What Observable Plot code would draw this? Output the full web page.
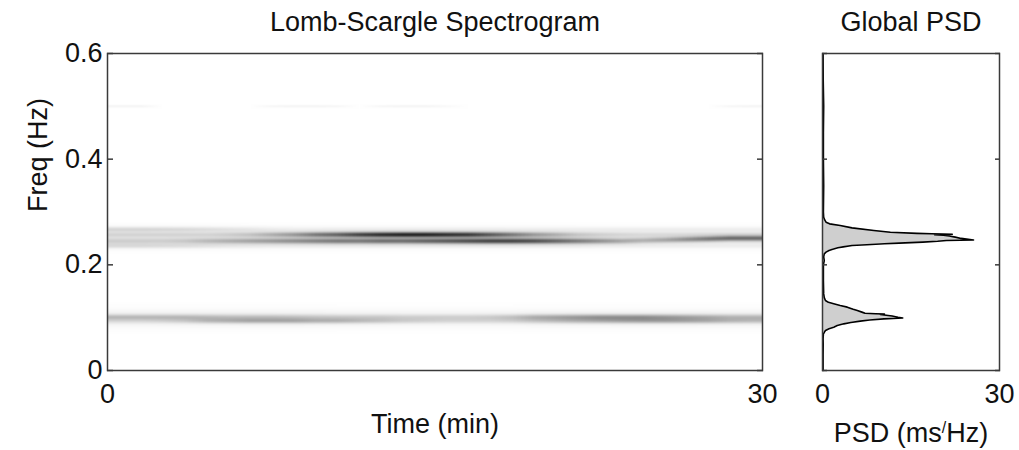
<!DOCTYPE html>
<html>
<head>
<meta charset="utf-8">
<script src="https://cdn.jsdelivr.net/npm/d3@7"></script>
<script src="https://cdn.jsdelivr.net/npm/@observablehq/plot@0.6"></script>
<style>
  body { margin: 0; background: #fff; }
  #fig { position: relative; width: 1019px; height: 450px; font-family: "Liberation Sans", Arial, sans-serif; }
  #fig svg { position: absolute; top: 0; overflow: visible; }
</style>
</head>
<body>
<div id="fig"></div>
<script>
// ---- Axis ticks ----
const freqTicks = [0, 0.2, 0.4, 0.6];
const timeTicks = [0, 30];
const psdTicks = [0, 30];

// ---- Spectrogram: one-minute time bins (0..30 min) ----
const timeBins = [0.5, 1.5, 2.5, 3.5, 4.5, 5.5, 6.5, 7.5, 8.5, 9.5, 10.5, 11.5, 12.5, 13.5, 14.5,
  15.5, 16.5, 17.5, 18.5, 19.5, 20.5, 21.5, 22.5, 23.5, 24.5, 25.5, 26.5, 27.5, 28.5, 29.5];

// Respiratory band, upper ridge (~0.257 Hz)
const upperHiFreq = 0.257;
const upperHiPower = [0.12, 0.12, 0.12, 0.12, 0.12, 0.15, 0.2, 0.3, 0.4, 0.55, 0.65, 0.8, 0.9, 0.95, 0.95,
  0.9, 0.85, 0.7, 0.55, 0.4, 0.3, 0.2, 0.15, 0.12, 0.1, 0.1, 0.1, 0.1, 0.1, 0.1];
// Respiratory band, lower ridge (~0.245 Hz, drifting up at the end)
const upperLoFreq = [0.245, 0.245, 0.245, 0.245, 0.245, 0.245, 0.245, 0.245, 0.245, 0.245, 0.245, 0.245, 0.245, 0.245, 0.245,
  0.245, 0.245, 0.245, 0.245, 0.245, 0.245, 0.245, 0.245, 0.245, 0.246, 0.247, 0.248, 0.249, 0.25, 0.25];
const upperLoPower = [0.15, 0.15, 0.15, 0.18, 0.25, 0.3, 0.35, 0.4, 0.45, 0.5, 0.55, 0.55, 0.6, 0.6, 0.65,
  0.7, 0.75, 0.8, 0.8, 0.75, 0.65, 0.55, 0.45, 0.35, 0.3, 0.35, 0.45, 0.55, 0.6, 0.6];
// Faint side ridges of the respiratory band
const upperOuterFreq = 0.267;
const upperOuterPower = [0.16, 0.16, 0.15, 0.14, 0.12, 0.1, 0.08, 0.06, 0.05, 0.05, 0.05, 0.05, 0.05, 0.05, 0.05,
  0.05, 0.05, 0.05, 0.05, 0.05, 0.05, 0.05, 0.05, 0.05, 0.05, 0.05, 0.05, 0.05, 0.05, 0.05];
const upperInnerFreq = 0.236;
const upperInnerPower = [0.14, 0.14, 0.13, 0.12, 0.1, 0.08, 0.07, 0.06, 0.06, 0.06, 0.06, 0.06, 0.06, 0.06, 0.06,
  0.06, 0.06, 0.06, 0.06, 0.06, 0.06, 0.06, 0.05, 0.05, 0.05, 0.05, 0.05, 0.05, 0.05, 0.05];
const upperHaloFreq = 0.251;
const upperHaloPower = [0.09, 0.09, 0.09, 0.09, 0.09, 0.09, 0.09, 0.09, 0.09, 0.09, 0.09, 0.09, 0.09, 0.09, 0.09,
  0.09, 0.09, 0.09, 0.09, 0.09, 0.09, 0.08, 0.08, 0.08, 0.08, 0.08, 0.08, 0.08, 0.08, 0.08];

// Low-frequency band, two ridges near 0.1 Hz
const lowerHiFreq = 0.101;
const lowerHiPower = [0.24, 0.24, 0.24, 0.24, 0.22, 0.2, 0.2, 0.2, 0.18, 0.16, 0.16, 0.16, 0.16, 0.14, 0.14,
  0.14, 0.14, 0.16, 0.2, 0.28, 0.32, 0.36, 0.4, 0.4, 0.4, 0.36, 0.32, 0.28, 0.24, 0.24];
const lowerLoFreq = 0.094;
const lowerLoPower = [0.1, 0.1, 0.12, 0.16, 0.24, 0.28, 0.32, 0.32, 0.32, 0.28, 0.28, 0.24, 0.2, 0.16, 0.14,
  0.12, 0.12, 0.12, 0.14, 0.18, 0.22, 0.26, 0.29, 0.32, 0.34, 0.34, 0.32, 0.29, 0.24, 0.22];
const lowerHaloFreq = 0.099;
const lowerHaloPower = [0.08, 0.08, 0.08, 0.08, 0.08, 0.08, 0.08, 0.08, 0.08, 0.08, 0.07, 0.07, 0.07, 0.07, 0.07,
  0.07, 0.07, 0.07, 0.07, 0.08, 0.08, 0.08, 0.08, 0.08, 0.08, 0.08, 0.08, 0.08, 0.08, 0.08];

// Very faint line at 0.5 Hz
const halfHzFreq = 0.5;
const halfHzPower = [0.05, 0.05, 0, 0, 0, 0, 0, 0.04, 0.05, 0.05, 0.04, 0, 0.04, 0.05, 0.05,
  0.03, 0, 0, 0, 0, 0, 0, 0, 0, 0, 0, 0, 0, 0.04, 0.05];

// ---- Global PSD (frequency in Hz, power in ms²/Hz) ----
const psdFreq = [0, 0.03, 0.05, 0.060, 0.0694, 0.0720, 0.0757, 0.0790, 0.0820, 0.0850,
  0.0883, 0.0910, 0.0934, 0.0955, 0.0978, 0.0985, 0.0995, 0.1009, 0.1030, 0.1045,
  0.1060, 0.1068, 0.1075, 0.1085, 0.1100, 0.1136, 0.1160, 0.1199, 0.1230, 0.1262,
  0.1290, 0.1325, 0.1380, 0.1450, 0.170, 0.200, 0.2080, 0.2150, 0.2208, 0.2240,
  0.2271, 0.2290, 0.2322, 0.2340, 0.2366, 0.2380, 0.2398, 0.2410, 0.2429, 0.2445,
  0.2460, 0.2470, 0.2480, 0.2500, 0.2524, 0.2545, 0.2560, 0.2570, 0.2578, 0.2587,
  0.2595, 0.2618, 0.2650, 0.2700, 0.2745, 0.2776, 0.2807, 0.2845, 0.2900, 0.3000,
  0.35, 0.4, 0.45, 0.5, 0.55, 0.6];
const psdPower = [0.1, 0.1, 0.12, 0.1, 0.15, 0.3, 0.5, 1.1, 1.9, 2.5,
  3.6, 4.8, 6.4, 8.0, 10.4, 12.0, 13.6, 12.8, 11.8, 10.8,
  9.8, 10.5, 9.0, 7.2, 6.8, 5.9, 5.2, 4.2, 3.0, 1.9,
  1.0, 0.5, 0.3, 0.2, 0.15, 0.15, 0.3, 0.2, 0.3, 0.6,
  1.1, 1.6, 2.6, 3.5, 5.0, 7.5, 10.5, 13.0, 17.0, 19.5,
  21.0, 25.6, 25.0, 23.5, 22.5, 21.5, 20.5, 19.0, 22.0, 18.5,
  16.0, 11.5, 8.7, 5.0, 3.0, 1.2, 0.6, 0.4, 0.2, 0.15,
  0.2, 0.15, 0.15, 0.2, 0.12, 0.1];

// ---- Build tables from the arrays ----
const ridges = [
  {freq: upperHiFreq, power: upperHiPower, width: 0.0036},
  {freq: upperLoFreq, power: upperLoPower, width: 0.0036},
  {freq: upperOuterFreq, power: upperOuterPower, width: 0.0035},
  {freq: upperInnerFreq, power: upperInnerPower, width: 0.0035},
  {freq: upperHaloFreq, power: upperHaloPower, width: 0.011},
  {freq: lowerHiFreq, power: lowerHiPower, width: 0.0036},
  {freq: lowerLoFreq, power: lowerLoPower, width: 0.0036},
  {freq: lowerHaloFreq, power: lowerHaloPower, width: 0.011},
  {freq: halfHzFreq, power: halfHzPower, width: 0.0016}
];
const psdTable = psdFreq.map((f, i) => ({freq: f, psd: psdPower[i]}));

// Spectral intensity at time t (min) and frequency f (Hz)
function spectrum(t, f) {
  const col = Math.max(0, Math.min(timeBins.length - 1, Math.floor(t)));
  let s = 0;
  for (const r of ridges) {
    const f0 = Array.isArray(r.freq) ? r.freq[col] : r.freq;
    const z = (f - f0) / r.width;
    s += r.power[col] * Math.exp(-0.5 * z * z);
  }
  return s;
}

const font = `"Liberation Sans", Arial, sans-serif`;
const ink = "#111";
const frameColor = "#3a3a3a";
const fs = 27;
const tickFmt = d => String(d);

const left = Plot.plot({
  width: 790,
  height: 450,
  marginLeft: 107,
  marginRight: 28,
  marginTop: 53,
  marginBottom: 80,
  x: {domain: [0, 30]},
  y: {domain: [0, 0.6]},
  color: {type: "linear", domain: [0, 1.2], range: ["#ffffff", "#000000"], interpolate: "rgb", clamp: true},
  style: {fontFamily: font, fontSize: fs + "px", color: ink, background: "transparent", overflow: "visible"},
  marks: [
    Plot.raster({
      x1: 0, x2: 30, y1: 0, y2: 0.6,
      width: timeBins.length, height: 300,
      fill: (x, y) => spectrum(x, y),
      imageRendering: "auto"
    }),
    Plot.frame({stroke: frameColor, strokeWidth: 1.5}),
    Plot.axisY(freqTicks, {anchor: "left", tickSize: 0, tickPadding: 5, tickFormat: tickFmt, label: null, fontSize: fs, fill: ink}),
    Plot.axisY(freqTicks, {anchor: "left", tickSize: -6, tickFormat: () => "", label: null, stroke: frameColor, strokeWidth: 1.5}),
    Plot.axisY(freqTicks, {anchor: "right", tickSize: -6, tickFormat: () => "", label: null, stroke: frameColor, strokeWidth: 1.5}),
    Plot.axisX(timeTicks, {anchor: "bottom", tickSize: 0, tickPadding: 13, tickFormat: tickFmt, label: null, fontSize: fs, fill: ink}),
    Plot.text(["Lomb-Scargle Spectrogram"], {frameAnchor: "top", lineAnchor: "middle", dy: -31, fontSize: fs, fill: ink}),
    Plot.text(["Time (min)"], {frameAnchor: "bottom", lineAnchor: "middle", dy: 54, fontSize: fs, fill: ink}),
    Plot.text(["Freq (Hz)"], {frameAnchor: "left", lineAnchor: "middle", dx: -69, rotate: -90, fontSize: fs, fill: ink})
  ]
});
left.style.left = "0px";

const right = Plot.plot({
  width: 229,
  height: 450,
  marginLeft: 32,
  marginRight: 20,
  marginTop: 53,
  marginBottom: 80,
  x: {domain: [0, 30]},
  y: {domain: [0, 0.6]},
  style: {fontFamily: font, fontSize: fs + "px", color: ink, background: "transparent", overflow: "visible"},
  marks: [
    Plot.areaX(psdTable, {y: "freq", x: "psd", fill: "#cfcfcf"}),
    Plot.lineX(psdTable, {y: "freq", x: "psd", stroke: "#000", strokeWidth: 1.6}),
    Plot.frame({stroke: frameColor, strokeWidth: 1.5}),
    Plot.axisY(freqTicks, {anchor: "left", tickSize: -5, tickFormat: () => "", label: null, stroke: frameColor, strokeWidth: 1.5}),
    Plot.axisY(freqTicks, {anchor: "right", tickSize: -5, tickFormat: () => "", label: null, stroke: frameColor, strokeWidth: 1.5}),
    Plot.axisX(psdTicks, {anchor: "bottom", tickSize: 0, tickPadding: 13, tickFormat: tickFmt, label: null, fontSize: fs, fill: ink}),
    Plot.text(["Global PSD"], {frameAnchor: "top", lineAnchor: "middle", dy: -31, fontSize: fs, fill: ink}),
    Plot.text(["PSD (ms/Hz)"], {frameAnchor: "bottom", lineAnchor: "middle", dy: 63, fontSize: fs, fill: ink})
  ]
});
right.style.left = "790px";

// Raise the slash of the unit label
for (const t of right.querySelectorAll("text")) {
  if (t.textContent === "PSD (ms/Hz)") {
    const ns = "http://www.w3.org/2000/svg";
    t.textContent = "PSD (ms";
    const sup = document.createElementNS(ns, "tspan");
    sup.setAttribute("dy", "-9");
    sup.setAttribute("font-size", "16");
    sup.textContent = "/";
    const rest = document.createElementNS(ns, "tspan");
    rest.setAttribute("dy", "9");
    rest.textContent = "Hz)";
    t.append(sup, rest);
  }
}

const fig = document.getElementById("fig");
fig.append(left, right);
</script>
</body>
</html>
